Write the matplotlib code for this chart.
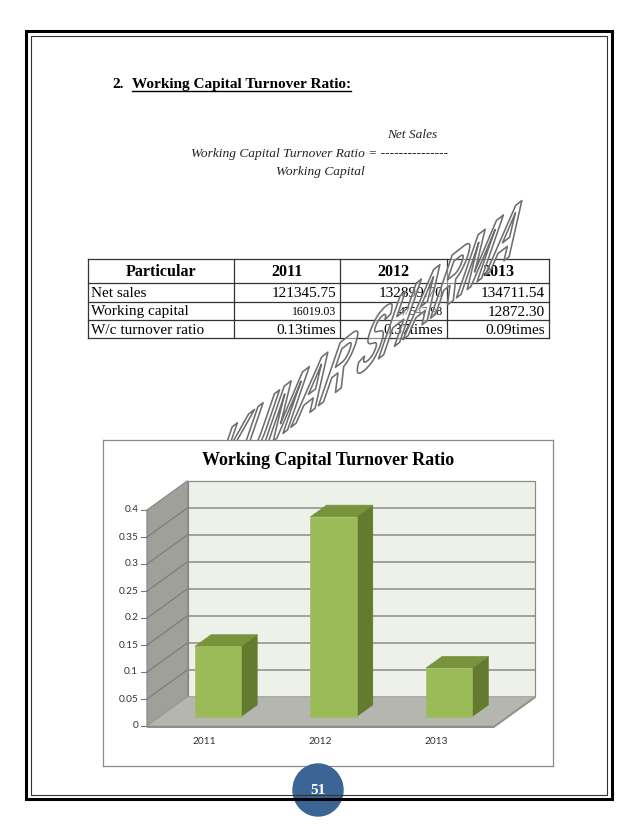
import numpy as np
import matplotlib
matplotlib.use('Agg')
import matplotlib.pyplot as plt
from matplotlib.patches import Polygon, Rectangle, Ellipse
from matplotlib.transforms import Affine2D
import matplotlib.patheffects as pe

# ---------------- data ----------------
years = ['2011', '2012', '2013']
row_names = ['Net sales', 'Working capital', 'W/c turnover ratio']
net_sales = ['121345.75', '132899.70', '134711.54']
working_capital = ['16019.03', '47547.98', '12872.30']
ratio_labels = ['0.13times', '0.37times', '0.09times']
ratio_values = [0.13, 0.37, 0.09]
y_ticks = [0, 0.05, 0.1, 0.15, 0.2, 0.25, 0.3, 0.35, 0.4]
y_tick_labels = ['0', '0.05', '0.1', '0.15', '0.2', '0.25', '0.3', '0.35', '0.4']
watermark = 'KUMAR SHARMA'

SERIF = ['Liberation Serif', 'DejaVu Serif']
SANS = ['Lato', 'DejaVu Sans']

W, H = 638, 826
fig = plt.figure(figsize=(W / 100, H / 100), dpi=100)
fig.patch.set_facecolor('white')

# page axes (pixel coordinates)
ax0 = fig.add_axes([0, 0, 1, 1])
ax0.set_xlim(0, W)
ax0.set_ylim(H, 0)
ax0.axis('off')

# heading
ax0.text(112, 88, '2.', family=SERIF, fontweight='bold', fontsize=11, va='baseline')
head = ax0.text(132, 88, 'Working Capital Turnover Ratio:', family=SERIF,
                fontweight='bold', fontsize=11, va='baseline')

# formula
ax0.text(412, 135, 'Net Sales', family=SERIF, style='italic', fontsize=9.6,
         ha='center', va='center', color='#222222')
ax0.text(191, 154, 'Working Capital Turnover Ratio = ---------------', family=SERIF,
         style='italic', fontsize=9.6, ha='left', va='center', color='#222222')
ax0.text(320, 172, 'Working Capital', family=SERIF, style='italic', fontsize=9.6,
         ha='center', va='center', color='#222222')

# table
xs = [88, 234, 340, 447, 549]
ys = [259, 283, 302, 320, 338]
for x in xs:
    ax0.plot([x, x], [ys[0], ys[-1]], color='#333333', lw=0.9)
for y in ys:
    ax0.plot([xs[0], xs[-1]], [y, y], color='#333333', lw=0.9)
headers = ['Particular'] + years
for j, h in enumerate(headers):
    ax0.text((xs[j] + xs[j + 1]) / 2, (ys[0] + ys[1]) / 2 + 1, h, family=SERIF,
             fontweight='bold', fontsize=11.5, ha='center', va='center')
rows = [net_sales, working_capital, ratio_labels]
row_sizes = [[11, 11, 11], [8.5, 8.5, 11], [11, 11, 11]]
for r, (name, vals) in enumerate(zip(row_names, rows)):
    yc = (ys[r + 1] + ys[r + 2]) / 2 + 1
    ax0.text(xs[0] + 3, yc, name, family=SERIF, fontsize=11, ha='left', va='center')
    for j, v in enumerate(vals):
        ax0.text(xs[j + 2] - 4, yc, v, family=SERIF, fontsize=row_sizes[r][j],
                 ha='right', va='center')


# watermark: real text, drawn as a sheared outline
class Warp(pe.AbstractPathEffect):
    def __init__(self, matrix, ec, lw, fc):
        super().__init__()
        self.m = np.array([[matrix[0][0], matrix[0][1], 0],
                           [matrix[1][0], matrix[1][1], 0],
                           [0, 0, 1.0]])
        self.ec, self.lw, self.fc = ec, lw, fc

    def draw_path(self, renderer, gc, tpath, affine, rgbFace=None):
        ox, oy = affine.transform((0, 0))
        warp = (affine + Affine2D().translate(-ox, -oy) + Affine2D(self.m)
                + Affine2D().translate(ox, oy))
        gc0 = renderer.new_gc()
        gc0.copy_properties(gc)
        gc0.set_foreground(self.ec)
        gc0.set_linewidth(self.lw)
        renderer.draw_path(gc0, tpath, warp, self.fc)
        gc0.restore()


base_ang, up_ang = np.deg2rad(38), np.deg2rad(71)
sx, sy = 2.35, 5.0
mat = [[sx * np.cos(base_ang), sy * np.cos(up_ang)],
       [sx * np.sin(base_ang), sy * np.sin(up_ang)]]
ax0.text(208, 492, watermark, family=['Liberation Sans', 'DejaVu Sans'], fontsize=14,
         fontweight='bold', ha='left', va='baseline', color='white', zorder=5,
         path_effects=[Warp(mat, '#6e6e6e', 1.15, (1, 1, 1, 0.45))])

# ---------------- chart ----------------
px_left, px_right, px_top, px_bot = 103, 553, 440, 766
x0px, cat_px, y0px, unit_px = 147, 115.6, 726, 540
ax = fig.add_axes([px_left / W, 1 - px_bot / H, (px_right - px_left) / W,
                   (px_bot - px_top) / H], zorder=10)
ax.set_xlim((px_left - x0px) / cat_px, (px_right - x0px) / cat_px)
ax.set_ylim((y0px - px_bot) / unit_px, (y0px - px_top) / unit_px)
ax.set_xticks([])
ax.set_yticks([])
ax.set_facecolor('white')
for s in ax.spines.values():
    s.set_color('#8a8a8a')
    s.set_linewidth(0.9)

DX, DY = 40.7 / cat_px, 29.3 / unit_px
ncat = len(years)
vmax = y_ticks[-1]


def P(x, v, d):
    return (x + d * DX, v + d * DY)


back = [P(0, 0, 1), P(ncat, 0, 1), P(ncat, vmax, 1), P(0, vmax, 1)]
left = [P(0, 0, 0), P(0, 0, 1), P(0, vmax, 1), P(0, vmax, 0)]
floor = [P(0, 0, 0), P(ncat, 0, 0), P(ncat, 0, 1), P(0, 0, 1)]
slab = [P(0, -0.004, 0), P(ncat, -0.004, 0), P(ncat, 0, 0), P(0, 0, 0)]
slab_side = [P(ncat, -0.004, 0), P(ncat, -0.004, 1), P(ncat, 0, 1), P(ncat, 0, 0)]
ax.add_patch(Polygon(back, closed=True, fc='#eef0ea', ec='#8a8a8a', lw=0.9, zorder=1))
ax.add_patch(Polygon(left, closed=True, fc='#9ea099', ec='#8a8a8a', lw=0.9, zorder=1))
for v in y_ticks[1:-1]:
    a, b = P(0, v, 1), P(ncat, v, 1)
    ax.plot([a[0], b[0]], [a[1], b[1]], color='#8c8c8c', lw=1.1, zorder=2)
    a, b = P(0, v, 0), P(0, v, 1)
    ax.plot([a[0], b[0]], [a[1], b[1]], color='#7c7e78', lw=0.9, zorder=2)
ax.add_patch(Polygon(floor, closed=True, fc='#b4b6af', ec='#9a9c96', lw=0.6, zorder=3))
ax.add_patch(Polygon(slab, closed=True, fc='#8e908a', ec='none', zorder=3))
ax.add_patch(Polygon(slab_side, closed=True, fc='#8e908a', ec='none', zorder=3))

# ticks and labels
for v, lab in zip(y_ticks, y_tick_labels):
    ax.plot([-0.055, 0], [v, v], color='#7a7a7a', lw=0.8, zorder=4)
    ax.text(-0.075, v, lab, family=SANS, fontsize=7.3, ha='right', va='center', color='#333333')

hw, d0, d1 = 0.2, 0.32, 0.72
for i, (yr, v) in enumerate(zip(years, ratio_values)):
    c = i + 0.5
    front = [P(c - hw, 0, d0), P(c + hw, 0, d0), P(c + hw, v, d0), P(c - hw, v, d0)]
    side = [P(c + hw, 0, d0), P(c + hw, 0, d1), P(c + hw, v, d1), P(c + hw, v, d0)]
    top = [P(c - hw, v, d0), P(c + hw, v, d0), P(c + hw, v, d1), P(c - hw, v, d1)]
    ax.add_patch(Polygon(side, closed=True, fc='#627b2f', ec='#627b2f', lw=0.4, zorder=5))
    ax.add_patch(Polygon(top, closed=True, fc='#77933c', ec='#77933c', lw=0.4, zorder=5))
    ax.add_patch(Polygon(front, closed=True, fc='#9bbb59', ec='#9bbb59', lw=0.4, zorder=6))
    ax.text(c, -0.028, yr, family=SANS, fontsize=7.3, ha='center', va='center', color='#333333')

ax.text(0.5, 0.936, 'Working Capital Turnover Ratio', transform=ax.transAxes, family=SERIF,
        fontweight='bold', fontsize=13, ha='center', va='center')

# ---------------- overlay: border and page number ----------------
ax3 = fig.add_axes([0, 0, 1, 1], zorder=20)
ax3.set_xlim(0, W)
ax3.set_ylim(H, 0)
ax3.axis('off')
ax3.patch.set_alpha(0)
ax3.add_patch(Ellipse((318, 790), 50, 52, color='#3a6594', zorder=1))
ax3.add_patch(Rectangle((26, 31), 586, 768, fill=False, ec='black', lw=2.2, zorder=2))
ax3.add_patch(Rectangle((31, 36), 576, 759, fill=False, ec='#333333', lw=0.8, zorder=2))
ax3.text(318, 791, '51', family=SERIF, fontweight='bold', fontsize=11, color='white',
         ha='center', va='center', zorder=3)

# underline heading
fig.canvas.draw()
bb = head.get_window_extent().transformed(ax0.transData.inverted())
ax0.plot([bb.x0, bb.x1], [91, 91], color='black', lw=1.0)

fig.savefig('out.png', dpi=100, facecolor='white')
